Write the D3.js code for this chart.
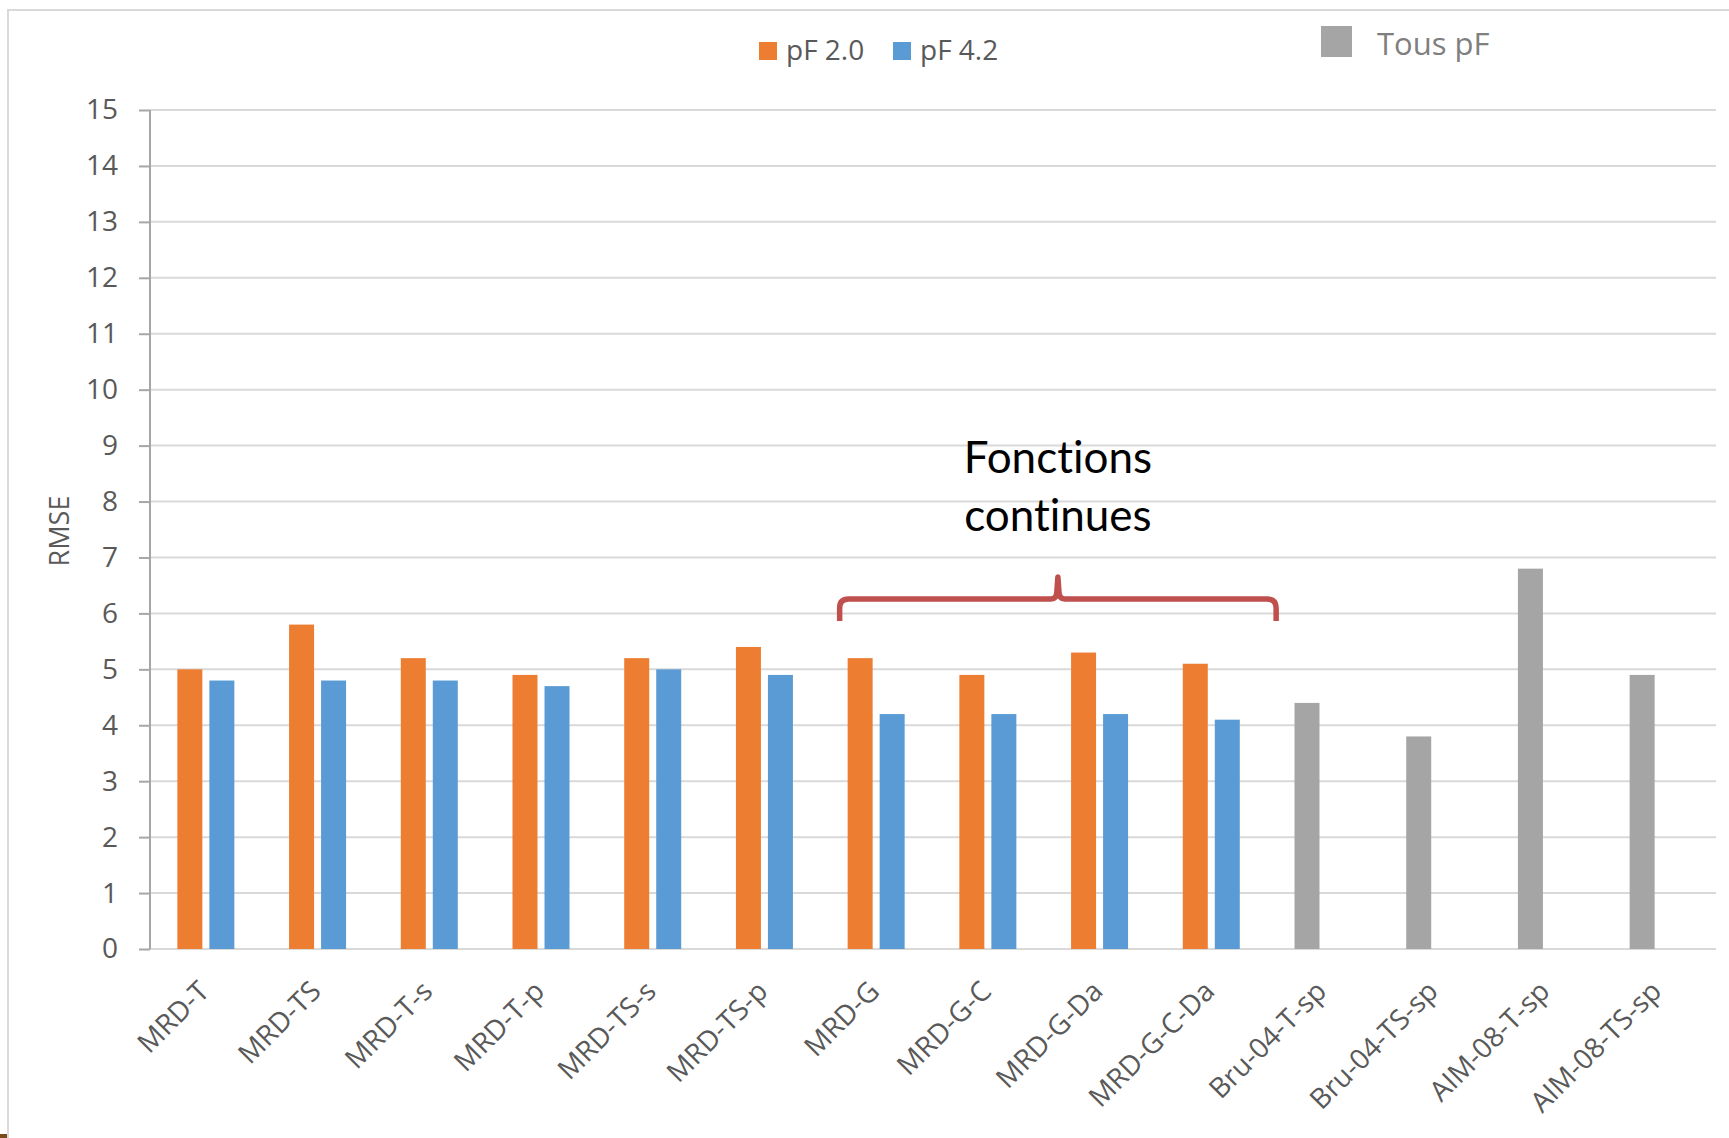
<!DOCTYPE html>
<html>
<head>
<meta charset="utf-8">
<script src="https://cdn.jsdelivr.net/npm/d3@7"></script>
<style>
  html, body { margin: 0; padding: 0; background: #fff; }
  svg { display: block; }
</style>
</head>
<body>
<svg id="chart" width="1729" height="1138"></svg>
<script>
// ---- data ----
const categories = ["MRD-T", "MRD-TS", "MRD-T-s", "MRD-T-p", "MRD-TS-s", "MRD-TS-p", "MRD-G", "MRD-G-C", "MRD-G-Da", "MRD-G-C-Da", "Bru-04-T-sp", "Bru-04-TS-sp", "AIM-08-T-sp", "AIM-08-TS-sp"];
const pf20 = [5.0, 5.8, 5.2, 4.9, 5.2, 5.4, 5.2, 4.9, 5.3, 5.1, null, null, null, null];
const pf42 = [4.8, 4.8, 4.8, 4.7, 5.0, 4.9, 4.2, 4.2, 4.2, 4.1, null, null, null, null];
const tousPf = [null, null, null, null, null, null, null, null, null, null, 4.4, 3.8, 6.8, 4.9];
const yTicks = [0, 1, 2, 3, 4, 5, 6, 7, 8, 9, 10, 11, 12, 13, 14, 15];
const seriesNames = ["pF 2.0", "pF 4.2"];
const seriesColors = ["#ed7d31", "#5b9bd5"];
const tousName = "Tous pF";
const tousColor = "#a5a5a5";
const annotationLines = ["Fonctions", "continues"];
const bracketFrom = "MRD-G", bracketTo = "MRD-G-C-Da";

// ---- layout ----
const svg = d3.select("#chart");
const plot = { left: 150, right: 1714, top: 110, bottom: 949 };
const FONT = "'Open Sans', 'DejaVu Sans', sans-serif";

// chart frame
svg.append("rect").attr("x", 8).attr("y", 10).attr("width", 1800).attr("height", 1300)
  .attr("fill", "none").attr("stroke", "#d9d9d9").attr("stroke-width", 2);
svg.append("rect").attr("x", 0).attr("y", 1134).attr("width", 7).attr("height", 4).attr("fill", "#7a4a1a");

const x = d3.scaleBand().domain(categories).range([plot.left, plot.right]).paddingInner(0).paddingOuter(0);
const x1 = d3.scaleBand().domain(seriesNames).range([0, x.bandwidth()]).paddingInner(0.219).paddingOuter(0.855);
const y = d3.scaleLinear().domain([0, 15]).range([plot.bottom, plot.top]);

// gridlines
svg.append("g").selectAll("line").data(yTicks).join("line")
  .attr("x1", plot.left).attr("x2", plot.right + 2)
  .attr("y1", d => y(d)).attr("y2", d => y(d))
  .attr("stroke", "#d9d9d9").attr("stroke-width", 2);

// y axis
const yAxis = svg.append("g").attr("transform", `translate(${plot.left},0)`)
  .call(d3.axisLeft(y).tickValues(yTicks).tickSize(11).tickPadding(21).tickSizeOuter(0));
yAxis.select(".domain").attr("stroke", "#a6a6a6").attr("stroke-width", 2)
  .attr("d", `M0,${plot.top}V${plot.bottom}`);
yAxis.selectAll(".tick line").attr("stroke", "#a6a6a6").attr("stroke-width", 2);
yAxis.selectAll(".tick text").attr("fill", "#595959").style("font-family", FONT).style("font-size", "28px");

// y title
svg.append("text").attr("transform", "translate(69,531) rotate(-90)")
  .attr("text-anchor", "middle").attr("fill", "#595959")
  .style("font-family", FONT).style("font-size", "27px").text("RMSE");

// bars
const bars = svg.append("g");
categories.forEach((c, i) => {
  const vals = [pf20[i], pf42[i]];
  vals.forEach((v, s) => {
    if (v == null) return;
    bars.append("rect")
      .attr("x", x(c) + x1(seriesNames[s])).attr("width", x1.bandwidth())
      .attr("y", y(v)).attr("height", y(0) - y(v))
      .attr("fill", seriesColors[s]);
  });
  if (tousPf[i] != null) {
    bars.append("rect")
      .attr("x", x(c) + x1(seriesNames[0])).attr("width", x1.bandwidth())
      .attr("y", y(tousPf[i])).attr("height", y(0) - y(tousPf[i]))
      .attr("fill", tousColor);
  }
});

// x labels
svg.append("g").selectAll("text").data(categories).join("text")
  .attr("transform", d => `translate(${x(d) + x.bandwidth() / 2 + 5},${plot.bottom + 44}) rotate(-45)`)
  .attr("text-anchor", "end").attr("fill", "#595959")
  .style("font-family", FONT).style("font-size", "28px").text(d => d);

// legend pF
const leg = svg.append("g");
const legItems = [{ name: seriesNames[0], color: seriesColors[0], x: 759 }, { name: seriesNames[1], color: seriesColors[1], x: 893 }];
legItems.forEach(it => {
  leg.append("rect").attr("x", it.x).attr("y", 42).attr("width", 18).attr("height", 18).attr("fill", it.color);
  leg.append("text").attr("x", it.x + 27).attr("y", 60).attr("fill", "#595959")
    .style("font-family", FONT).style("font-size", "28px").text(it.name);
});
// legend Tous pF
leg.append("rect").attr("x", 1321).attr("y", 26).attr("width", 31).attr("height", 31).attr("fill", tousColor);
leg.append("text").attr("x", 1377).attr("y", 55).attr("fill", "#7f7f7f")
  .style("font-family", FONT).style("font-size", "31px").text(tousName);

// bracket
const bx0 = x(bracketFrom) + x1(seriesNames[0]) - 8;
const bx1 = x(bracketTo) + x.bandwidth() + 9;
const bm = (bx0 + bx1) / 2;
const by = 599, byBot = 621, byTop = 577, r = 9;
const p = d3.path();
p.moveTo(bx0, byBot);
p.lineTo(bx0, by + r);
p.quadraticCurveTo(bx0, by, bx0 + r, by);
p.lineTo(bm - 7, by);
p.quadraticCurveTo(bm - 1, by, bm - 1, by - 8);
p.lineTo(bm, byTop);
p.lineTo(bm + 1, by - 8);
p.quadraticCurveTo(bm + 1, by, bm + 7, by);
p.lineTo(bx1 - r, by);
p.quadraticCurveTo(bx1, by, bx1, by + r);
p.lineTo(bx1, byBot);
svg.append("path").attr("d", p.toString()).attr("fill", "none")
  .attr("stroke", "#c0504d").attr("stroke-width", 5.5).attr("stroke-linejoin", "round");

// annotation text
svg.append("g").selectAll("text").data(annotationLines).join("text")
  .attr("x", bm).attr("y", (d, i) => 473 + i * 58)
  .attr("text-anchor", "middle").attr("fill", "#000")
  .style("font-variant-ligatures", "none").style("font-feature-settings", "'liga' 0, 'clig' 0")
  .style("font-family", "Lato, 'Open Sans', sans-serif").style("font-size", "44px").text(d => d);
</script>
</body>
</html>
